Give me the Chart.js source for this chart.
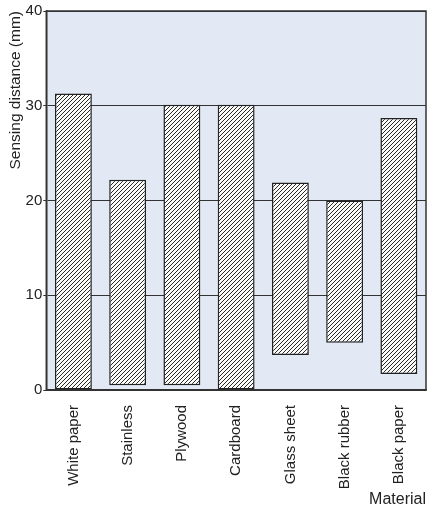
<!DOCTYPE html>
<html>
<head>
<meta charset="utf-8">
<script src="https://cdn.jsdelivr.net/npm/chart.js@4.4.0/dist/chart.umd.min.js"></script>
<style>
  html, body { margin: 0; padding: 0; background: #fff; }
  #wrap { width: 434px; height: 509px; }
</style>
</head>
<body>
<div id="wrap"><canvas id="myChart" width="434" height="509"></canvas></div>
<script>
/* global Chart */
const materials = ["White paper", "Stainless", "Plywood", "Cardboard", "Glass sheet", "Black rubber", "Black paper"];
const minDistance = [0, 0.5, 0.5, 0, 3.7, 5, 1.7];
const maxDistance = [31.3, 22.2, 30.1, 30.1, 21.9, 20, 28.7];
const yTicks = [0, 10, 20, 30, 40];

// diagonal hatch fill
function hatch() {
  const c = document.createElement("canvas");
  c.width = 4;
  c.height = 4;
  const g = c.getContext("2d");
  g.fillStyle = "#fbfbf8";
  g.fillRect(0, 0, 4, 4);
  g.strokeStyle = "#2a2a2a";
  g.lineWidth = 1;
  g.beginPath();
  g.moveTo(-1, 5);
  g.lineTo(5, -1);
  g.moveTo(-1, 1);
  g.lineTo(1, -1);
  g.moveTo(3, 5);
  g.lineTo(5, 3);
  g.stroke();
  return g.createPattern(c, "repeat");
}

const plotBg = {
  id: "plotBg",
  beforeDraw(chart) {
    const a = chart.chartArea;
    const ctx = chart.ctx;
    ctx.save();
    ctx.fillStyle = "#e2e9f4";
    ctx.fillRect(a.left, a.top, a.right - a.left, a.bottom - a.top);
    ctx.restore();
  },
  afterDraw(chart) {
    const a = chart.chartArea;
    const ctx = chart.ctx;
    ctx.save();
    ctx.strokeStyle = "#333";
    ctx.lineWidth = 1.5;
    ctx.strokeRect(a.left, a.top, a.right - a.left, a.bottom - a.top);
    ctx.restore();
  }
};

const font = "'Liberation Sans', Arial, sans-serif";

const ctx = document.getElementById("myChart").getContext("2d");
const myChart = new Chart(ctx, {
  type: "bar",
  data: {
    labels: materials,
    datasets: [
      {
        label: "Sensing distance",
        data: materials.map((m, i) => [minDistance[i], maxDistance[i]]),
        backgroundColor: hatch(),
        borderColor: "#222",
        borderWidth: 1.5,
        borderSkipped: false,
        barPercentage: 0.68,
        categoryPercentage: 1
      }
    ]
  },
  options: {
    responsive: false,
    animation: false,
    layout: { padding: { top: 11, right: 8, left: 6, bottom: 0 } },
    plugins: {
      legend: { display: false },
      tooltip: { enabled: false }
    },
    scales: {
      x: {
        afterFit(scale) {
          scale.height = 119;
        },
        grid: { display: false },
        border: { color: "#333", width: 1.5 },
        ticks: {
          minRotation: 90,
          maxRotation: 90,
          color: "#222",
          padding: 7,
          font: { family: font, size: 15 }
        },
        title: {
          display: true,
          text: "Material",
          align: "end",
          color: "#222",
          padding: { top: 0, bottom: 0 },
          font: { family: font, size: 16 }
        }
      },
      y: {
        min: yTicks[0],
        max: yTicks[yTicks.length - 1],
        afterBuildTicks(axis) {
          axis.ticks = yTicks.map(v => ({ value: v }));
        },
        grid: { color: "#333", lineWidth: 1, tickLength: 3 },
        border: { color: "#333", width: 1.5 },
        ticks: {
          color: "#222",
          padding: 1,
          font: { family: font, size: 15 }
        },
        title: {
          display: true,
          text: "Sensing distance (mm)",
          align: "end",
          color: "#222",
          padding: { top: 0, bottom: 0 },
          font: { family: font, size: 15.5 }
        }
      }
    }
  },
  plugins: [plotBg]
});
</script>
</body>
</html>
